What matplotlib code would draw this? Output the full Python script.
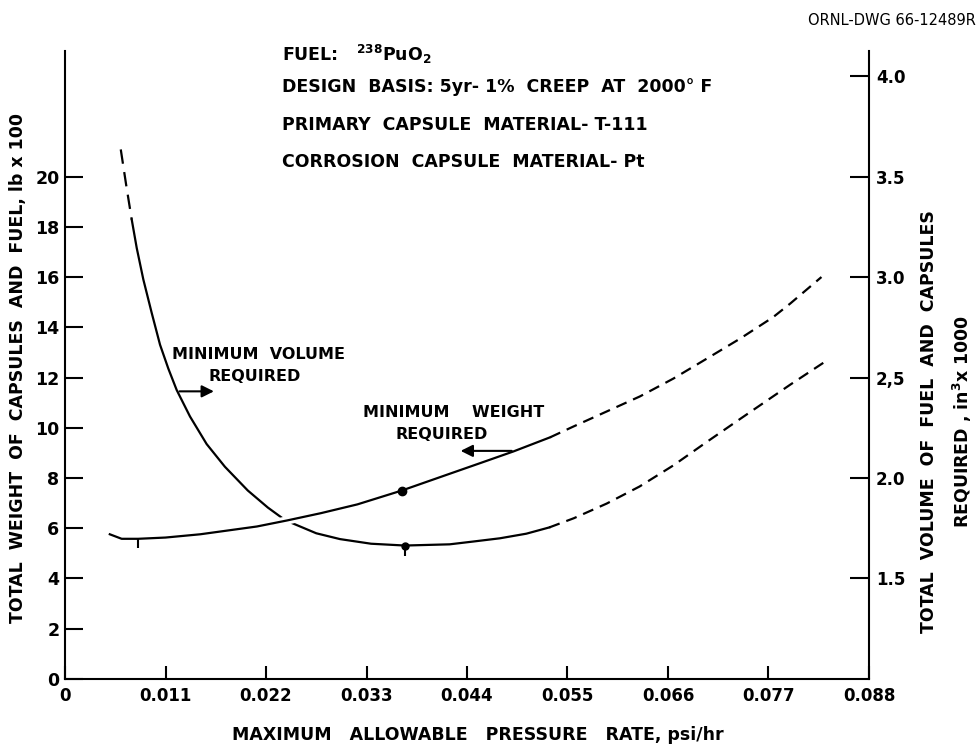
import numpy as np
import matplotlib
matplotlib.use("Agg")
import matplotlib.pyplot as plt
from matplotlib.path import Path
import matplotlib.patheffects as pe

plt.rcParams['font.family'] = ['DejaVu Sans']
plt.rcParams['font.weight'] = 'bold'
plt.rcParams['axes.labelweight'] = 'bold'
plt.rcParams['mathtext.fontset'] = 'custom'
plt.rcParams['mathtext.bf'] = 'DejaVu Sans:bold'
plt.rcParams['mathtext.rm'] = 'DejaVu Sans:bold'
plt.rcParams['mathtext.default'] = 'bf'

# Данные: вес капсул и топлива (lb x 100), сплошная часть и продолжение пунктиром
p_weight = [0.0049, 0.0062, 0.0080, 0.0110, 0.0148, 0.0180, 0.0210, 0.0243,
            0.0280, 0.0320, 0.03685, 0.0418, 0.0455, 0.0491, 0.0531]
weight = [5.76, 5.58, 5.58, 5.63, 5.76, 5.92, 6.07, 6.31,
          6.60, 6.95, 7.50, 8.13, 8.60, 9.06, 9.62]
p_weight_ext = [0.0531, 0.05565, 0.0593, 0.06294, 0.0666, 0.07024, 0.0739,
                0.0775, 0.0794, 0.0828]
weight_ext = [9.62, 10.05, 10.65, 11.25, 11.96, 12.75, 13.55, 14.40, 14.95, 16.00]

# Объём топлива и капсул (in^3 x 1000)
p_vol_top = [0.0061, 0.0067, 0.0073]
vol_top = [3.635, 3.456, 3.286]
p_vol = [0.0073, 0.00785, 0.00857, 0.00949, 0.0104, 0.01131, 0.01222, 0.01368,
         0.0155, 0.0175, 0.0200, 0.0222, 0.0241, 0.0275, 0.0301, 0.0335,
         0.0372, 0.0421, 0.0447, 0.0476, 0.0505, 0.0530]
vol = [3.286, 3.144, 2.988, 2.821, 2.663, 2.544, 2.438, 2.306,
       2.169, 2.056, 1.938, 1.853, 1.790, 1.725, 1.696, 1.673,
       1.664, 1.670, 1.684, 1.700, 1.723, 1.754]
p_vol_ext = [0.0530, 0.0557, 0.0593, 0.0629, 0.0666, 0.0702, 0.0739,
             0.0775, 0.0794, 0.0830]
vol_ext = [1.754, 1.800, 1.873, 1.958, 2.063, 2.178, 2.294, 2.406, 2.465, 2.573]

# Экспериментальные точки
p_wdot, w_dot = [0.03685], [7.50]
p_wtick, w_tick = [0.0080], [5.58]
p_vdot, v_dot = [0.0372], [1.664]

x_ticks = [0, 0.011, 0.022, 0.033, 0.044, 0.055, 0.066, 0.077, 0.088]
x_labels = ["0", "0.011", "0.022", "0.033", "0.044", "0.055", "0.066", "0.077", "0.088"]
y_ticks = [0, 2, 4, 6, 8, 10, 12, 14, 16, 18, 20]
y2_ticks = [1.5, 2.0, 2.5, 3.0, 3.5, 4.0]
y2_labels = ["1.5", "2.0", "2,5", "3.0", "3.5", "4.0"]

fig = plt.figure(figsize=(9.78, 7.44), dpi=100)
ax = fig.add_axes([0.0665, 0.0874, 0.822, 0.8441])
ax2 = ax.twinx()
ax.set_zorder(2)
ax.patch.set_visible(False)

dash = (0, (5, 3.2))
lw = 1.6
tick_down = Path([(0, 0), (0, -1)], [Path.MOVETO, Path.LINETO])

# Кривая объёма (правая ось)
ax2.plot(p_vol_top, vol_top, color="black", lw=lw, linestyle=(0, (6.5, 3.8)))
ax2.plot(p_vol, vol, color="black", lw=lw)
ax2.plot(p_vol_ext, vol_ext, color="black", lw=lw, linestyle=dash)
ax2.plot(p_vdot, v_dot, "o", color="black", ms=5)
ax2.plot(p_vdot, v_dot, marker=tick_down, color="black", ms=15, mew=1.5)

# Кривая веса (левая ось)
ax.plot(p_weight, weight, color="black", lw=lw,
        path_effects=[pe.Stroke(linewidth=6, foreground="white"), pe.Normal()])
ax.plot(p_weight_ext, weight_ext, color="black", lw=lw, linestyle=dash)
ax.plot(p_wdot, w_dot, "o", color="black", ms=6)
ax.plot(p_wtick, w_tick, marker=tick_down, color="black", ms=13, mew=1.5)

ax.set_xlim(0, 0.088)
ax.set_ylim(0, 25)
ax2.set_ylim(1.0, 4.125)

ax.set_xticks(x_ticks)
ax.set_xticklabels(x_labels)
ax.set_yticks(y_ticks)
ax2.set_yticks(y2_ticks)
ax2.set_yticklabels(y2_labels)

for a in (ax, ax2):
    a.spines["top"].set_visible(False)
    for s in a.spines.values():
        s.set_linewidth(1.5)
ax.spines["right"].set_visible(False)
ax2.spines["left"].set_visible(False)
ax2.spines["bottom"].set_visible(False)

ax.tick_params(axis="y", direction="in", length=13, width=1.5, pad=4, labelsize=12.5)
ax.tick_params(axis="x", direction="in", length=9.5, width=1.5, pad=6, labelsize=12)
ax2.tick_params(axis="y", direction="in", length=14, width=1.5, pad=5, labelsize=12)

ax.set_xlabel("MAXIMUM   ALLOWABLE   PRESSURE   RATE, psi/hr", fontsize=12.5)
ax.xaxis.set_label_coords(0.514, -0.075)
ax.set_ylabel("TOTAL  WEIGHT  OF  CAPSULES  AND  FUEL, lb x 100", fontsize=12.5)
ax.yaxis.set_label_coords(-0.047, 0.495)
ax2.set_ylabel("TOTAL  VOLUME  OF  FUEL  AND  CAPSULES\nREQUIRED , in$^3$x 1000",
               fontsize=12.5, linespacing=1.7)
ax2.yaxis.set_label_coords(1.064, 0.41)

# Подписи
ax.text(0.0237, 24.86, "FUEL:   $^{238}$PuO$_2$", fontsize=12.5, va="center")
ax.text(0.0237, 23.55, "DESIGN  BASIS: 5yr- 1%  CREEP  AT  2000° F", fontsize=12.5, va="center")
ax.text(0.0237, 22.07, "PRIMARY  CAPSULE  MATERIAL- T-111", fontsize=12.5, va="center")
ax.text(0.0237, 20.56, "CORROSION  CAPSULE  MATERIAL- Pt", fontsize=12.5, va="center")

ax.text(0.0212, 12.91, "MINIMUM  VOLUME", fontsize=11.5, ha="center", va="center")
ax.text(0.0208, 12.03, "REQUIRED", fontsize=11.5, ha="center", va="center")
ax.annotate("", xy=(0.0166, 11.45), xytext=(0.01222, 11.45),
            arrowprops=dict(arrowstyle="-|>", color="black", lw=1.5, mutation_scale=18))

ax.text(0.0425, 10.6, "MINIMUM    WEIGHT", fontsize=11.5, ha="center", va="center")
ax.text(0.0412, 9.72, "REQUIRED", fontsize=11.5, ha="center", va="center")
ax.annotate("", xy=(0.0430, 9.08), xytext=(0.0492, 9.08),
            arrowprops=dict(arrowstyle="-|>", color="black", lw=1.5, mutation_scale=18))

fig.text(0.998, 0.972, "ORNL-DWG 66-12489R", fontsize=10.5, fontweight="normal",
         ha="right", va="center")

fig.savefig("out.png", dpi=100)
